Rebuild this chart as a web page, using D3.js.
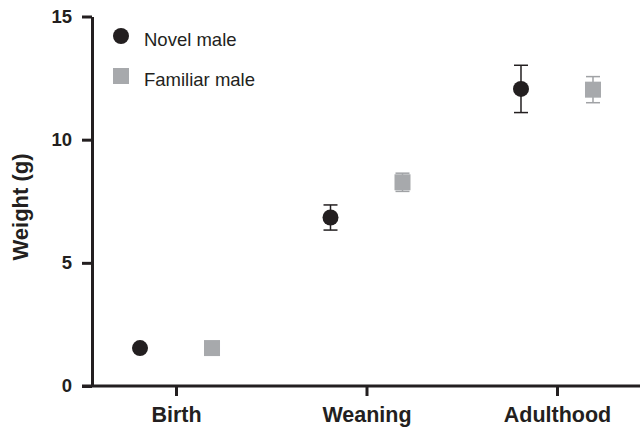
<!DOCTYPE html>
<html>
<head>
<meta charset="utf-8">
<script src="https://cdn.jsdelivr.net/npm/d3@7"></script>
<style>
  html, body { margin: 0; padding: 0; background: #fff; }
  svg { display: block; }
</style>
</head>
<body>
<div id="chart"></div>
<script>
const categories = ["Birth", "Weaning", "Adulthood"];
const seriesNames = ["Novel male", "Familiar male"];
const novelMean = [1.54, 6.84, 12.06];
const novelErr = [0, 0.51, 0.96];
const familiarMean = [1.54, 8.27, 12.03];
const familiarErr = [0, 0.37, 0.53];
const yTicks = [0, 5, 10, 15];
const yLabel = "Weight (g)";

const W = 640, H = 430;
const ink = "#231f20";
const grey = "#a7a9ac";
const font = "'Liberation Sans', Arial, sans-serif";

const svg = d3.select("#chart").append("svg")
  .attr("width", W).attr("height", H);

const x = d3.scalePoint().domain(categories).range([92, 641]).padding(0.441);
const y = d3.scaleLinear().domain([0, 15]).range([386, 16.5]);
const offset = 36;

// Y axis
const yAxis = svg.append("g").attr("transform", "translate(92,0)")
  .call(d3.axisLeft(y).tickValues(yTicks).tickSize(10).tickSizeOuter(0).tickPadding(10));
yAxis.select(".domain").attr("stroke", ink).attr("stroke-width", 3);
yAxis.selectAll(".tick line").attr("stroke", ink).attr("stroke-width", 3);
yAxis.selectAll(".tick text")
  .attr("fill", ink)
  .style("font-family", font)
  .style("font-weight", "bold")
  .style("font-size", "18.5px");

// X axis
const xAxis = svg.append("g").attr("transform", "translate(0,386)")
  .call(d3.axisBottom(x).tickSize(10).tickSizeOuter(0).tickPadding(11));
xAxis.select(".domain").attr("stroke", ink).attr("stroke-width", 3)
  .attr("d", "M82,0H641");
xAxis.selectAll(".tick line").attr("stroke", ink).attr("stroke-width", 3);
xAxis.selectAll(".tick text")
  .attr("fill", ink)
  .style("font-family", font)
  .style("font-weight", "bold")
  .style("font-size", "21.5px");

// Y label
svg.append("text")
  .attr("transform", `translate(28,207) rotate(-90)`)
  .attr("text-anchor", "middle")
  .attr("fill", ink)
  .style("font-family", font)
  .style("font-weight", "bold")
  .style("font-size", "22px")
  .text(yLabel);

// Error bars
function errBars(means, errs, dx, color) {
  const g = svg.append("g");
  categories.forEach((c, i) => {
    if (!errs[i]) return;
    const cx = x(c) + dx;
    const top = y(means[i] + errs[i]), bot = y(means[i] - errs[i]);
    g.append("line").attr("x1", cx).attr("x2", cx).attr("y1", top).attr("y2", bot)
      .attr("stroke", color).attr("stroke-width", 1.5);
    [top, bot].forEach(yy => g.append("line")
      .attr("x1", cx - 7).attr("x2", cx + 7).attr("y1", yy).attr("y2", yy)
      .attr("stroke", color).attr("stroke-width", 1.5));
  });
}
errBars(novelMean, novelErr, -offset, ink);
errBars(familiarMean, familiarErr, offset, "#a0a2a5");

// Points
svg.append("g").selectAll("circle").data(categories).join("circle")
  .attr("cx", d => x(d) - offset)
  .attr("cy", (d, i) => y(novelMean[i]))
  .attr("r", 8)
  .attr("fill", ink);

svg.append("g").selectAll("rect").data(categories).join("rect")
  .attr("x", d => x(d) + offset - 8)
  .attr("y", (d, i) => y(familiarMean[i]) - 8)
  .attr("width", 16).attr("height", 16)
  .attr("fill", grey);

// Legend
const legend = svg.append("g");
legend.append("circle").attr("cx", 121).attr("cy", 36).attr("r", 8).attr("fill", ink);
legend.append("rect").attr("x", 113).attr("y", 68).attr("width", 16).attr("height", 16).attr("fill", grey);
legend.selectAll("text").data(seriesNames).join("text")
  .attr("x", 144)
  .attr("y", (d, i) => 46 + i * 40)
  .attr("fill", ink)
  .style("font-family", font)
  .style("font-size", "18.5px")
  .text(d => d);
</script>
</body>
</html>
